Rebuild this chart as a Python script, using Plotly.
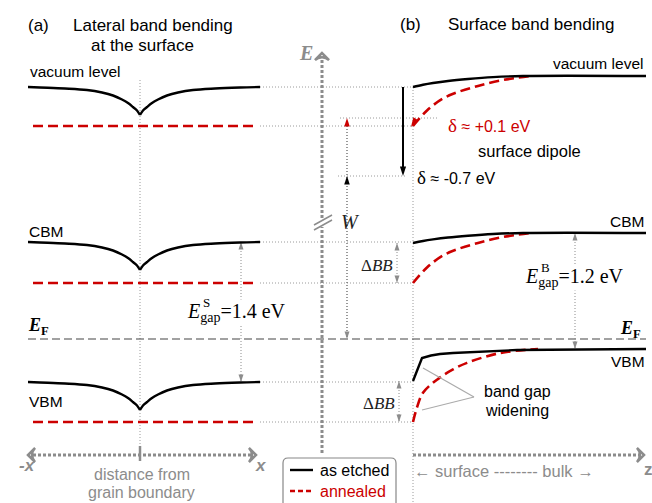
import math
import plotly.graph_objects as go

# ---------------- data (diagram coordinates: x = position, y = energy drawn downward) ----------------
levels = ["vacuum level", "CBM", "VBM"]
# panel (a): lateral band bending
a_etched_far = [87, 242, 382]
a_annealed = [126, 283, 422]
a_cusp_dist = [0, 3, 7, 12, 18, 27, 38, 53, 75, 100]
a_cusp_dip = [28, 23.5, 20, 16, 12.5, 8.5, 5.5, 3, 1.5, 0.5]
a_extent = [28, 260]
a_gb = 140
# panel (b): surface band bending
b_surface = 413
b_end = 646
b_etched_bulk = [76, 233, 349]
b_etched_surf = [87, 243, 381]
b_annealed_surf = [126, 283, 422]
b_black_dz = [0, 10, 20, 35, 55, 80, 110]
b_black_frac = [1, 0.8, 0.64, 0.45, 0.27, 0.1, 0]
b_red_dz = [0, 14, 30, 45, 65, 90, 118]
b_red_frac = [1, 0.69, 0.45, 0.32, 0.2, 0.08, 0]
b_vbm_black_dz = [0, 9, 18, 27, 40, 60, 80, 104]
b_vbm_black_off = [32, 9, 6.5, 5, 4, 3, 2, 1]
b_vbm_red_dz = [0, 4, 10, 24, 40, 54, 87, 125]
b_vbm_red_frac = [1, 0.8, 0.6, 0.42, 0.28, 0.19, 0.055, 0]
fermi = 339
gap_labels = ["1.4 eV", "1.2 eV"]
gap_sup = ["S", "B"]
delta_values = ["+0.1 eV", "-0.7 eV"]
delta_levels = [118, 176]

RED = "#cc0000"
GRAY = "#8c8c8c"
GUIDE = "#9a9a9a"
SANS = "Liberation Sans, Arial, sans-serif"
SERIF = "Liberation Serif, Times New Roman, serif"

fig = go.Figure()


def add_line(xs, ys, color, width, dash="solid", shape="linear"):
    fig.add_trace(go.Scatter(x=xs, y=ys, mode="lines",
                             line=dict(color=color, width=width, dash=dash, shape=shape),
                             hoverinfo="skip", showlegend=False))


def text(x, y, s, size=15, color="black", family=SANS, xanchor="center", yanchor="middle", bg=None):
    fig.add_annotation(x=x, y=y, text=s, showarrow=False, xanchor=xanchor, yanchor=yanchor,
                       font=dict(size=size, color=color, family=family),
                       bgcolor=bg, borderpad=0)


def head(x, y, angle, color, size=8, symbol="arrow", lw=0):
    # arrow symbol: tip sits exactly on the point; angle in degrees clockwise from "up"
    fig.add_trace(go.Scatter(x=[x], y=[y], mode="markers",
                             marker=dict(symbol=symbol, size=size, angle=angle, color=color,
                                         line=dict(color=color, width=lw)),
                             hoverinfo="skip", showlegend=False))


UP, DOWN, LEFT, RIGHT = 0, 180, 270, 90
GD = "1px,2px"
# ---------------- guide lines ----------------
add_line([a_gb, a_gb], [80, 447], GUIDE, 1, GD)
add_line([b_surface, b_surface], [b_etched_surf[0], 503], GUIDE, 1, GD)
for yv in a_etched_far + a_annealed:
    add_line([a_extent[1], b_surface], [yv, yv], GUIDE, 1, GD)
add_line([340, 438], [delta_levels[0]] * 2, GUIDE, 1, GD)
add_line([338, 405], [delta_levels[1]] * 2, GUIDE, 1, GD)

# Fermi level
add_line([28, b_end], [fermi, fermi], "#444444", 1.2, "8px,4px")

# gap arrows
add_line([241, 241], [a_etched_far[1], a_etched_far[2]], GRAY, 1, GD)
head(241, a_etched_far[1], UP, GRAY)
head(241, a_etched_far[2], DOWN, GRAY)
add_line([575, 575], [b_etched_bulk[1], b_etched_bulk[2]], GRAY, 1, GD)
head(575, b_etched_bulk[1], UP, GRAY)
head(575, b_etched_bulk[2], DOWN, GRAY)
# delta BB arrows
add_line([397, 397], [b_etched_surf[1], b_annealed_surf[1]], GRAY, 1, GD)
head(397, b_etched_surf[1], UP, GRAY)
head(397, b_annealed_surf[1], DOWN, GRAY)
add_line([399, 399], [b_etched_surf[2], b_annealed_surf[2]], GRAY, 1, GD)
head(399, b_etched_surf[2], UP, GRAY)
head(399, b_annealed_surf[2], DOWN, GRAY)

# work function arrow W
add_line([347, 347], [b_annealed_surf[0], fermi], "#555555", 1.2, GD)
head(347, delta_levels[0], UP, RED, size=9)
head(347, delta_levels[1], UP, "black", size=9)
head(347, fermi, DOWN, GRAY)

# E axis
add_line([322, 322], [453, 58], GRAY, 3, "3px,2px")
head(322, 53, UP, GRAY, size=10, symbol="arrow-wide-open", lw=2.5)
add_line([313, 331], [223, 223], "white", 8)
add_line([314, 332], [225, 215], GRAY, 1.5)
add_line([314, 332], [230, 220], GRAY, 1.5)

# x axis (panel a)
add_line([33, 251], [455, 455], GRAY, 3, "3px,2px")
head(28, 455, LEFT, GRAY, size=10, symbol="arrow-wide-open", lw=2.5)
head(256, 455, RIGHT, GRAY, size=10, symbol="arrow-wide-open", lw=2.5)
add_line([a_gb, a_gb], [446, 461], GRAY, 2.5)
# z axis (panel b)
add_line([b_surface, 639], [455, 455], GRAY, 3, "3px,2px")
head(644, 455, RIGHT, GRAY, size=10, symbol="arrow-wide-open", lw=2.5)

# ---------------- bands, panel (a) ----------------
RD = "10px,5px"
for i in range(3):
    lvl = a_etched_far[i]
    add_line([33, 258], [a_annealed[i]] * 2, RED, 2.6, RD)
    lx = [a_extent[0]] + [a_gb - d for d in reversed(a_cusp_dist)]
    ly = [lvl] + [lvl + v for v in reversed(a_cusp_dip)]
    rx = [a_gb + d for d in a_cusp_dist] + [a_extent[1]]
    ry = [lvl + v for v in a_cusp_dip] + [lvl]
    add_line(lx, ly, "black", 2.4, shape="spline")
    add_line(rx, ry, "black", 2.4, shape="spline")

# ---------------- bands, panel (b) ----------------
for i in range(3):
    bulk = b_etched_bulk[i]
    if i < 2:
        dz, fr = b_red_dz, b_red_frac
    else:
        dz, fr = b_vbm_red_dz, b_vbm_red_frac
    xs = [b_surface + d for d in dz]
    ys = [bulk + f * (b_annealed_surf[i] - bulk) for f in fr]
    add_line(xs, ys, RED, 2.6, RD, shape="spline")
for i in range(2):
    bulk = b_etched_bulk[i]
    xs = [b_surface + d for d in b_black_dz] + [b_end]
    ys = [bulk + f * (b_etched_surf[i] - bulk) for f in b_black_frac] + [bulk]
    add_line(xs, ys, "black", 2.4, shape="spline")
xs = [b_surface + d for d in b_vbm_black_dz] + [b_end]
ys = [b_etched_bulk[2] + o for o in b_vbm_black_off] + [b_etched_bulk[2]]
add_line(xs, ys, "black", 2.4)

# surface dipole arrows
add_line([403, 403], [b_etched_surf[0], delta_levels[1] - 6], "black", 2)
head(403, delta_levels[1], DOWN, "black", size=10)
red_dir = math.degrees(math.atan2(411 - 419, -(127 - 114)))
head(411, 127, red_dir, RED, size=10)

# band gap widening pointers
add_line([474, 423], [397, 368], "#aaaaaa", 1.2)
add_line([474, 422], [397, 410], "#aaaaaa", 1.2)

# ---------------- texts ----------------
text(38, 25, "(a)", 17)
text(153, 25, "Lateral band bending", 17)
text(142, 45, "at the surface", 17)
text(29, 71, "vacuum level", 15.5, xanchor="left")
text(410, 24, "(b)", 17)
text(531, 24, "Surface band bending", 17)
text(644, 63, "vacuum level", 15.5, xanchor="right")
text(28, 231, "CBM", 15.5, xanchor="left")
text(645, 221, "CBM", 15.5, xanchor="right")
text(28, 401, "VBM", 15.5, xanchor="left")
text(646, 361, "VBM", 15.5, xanchor="right")
text(27, 326, "<b><i>E</i><sub>F</sub></b>", 18, family=SERIF, xanchor="left")
text(619, 329, "<b><i>E</i><sub>F</sub></b>", 18, family=SERIF, xanchor="left")

# gap labels
text(186, 312, "<i>E</i><sub>gap</sub>=" + gap_labels[0], 20, family=SERIF, xanchor="left", bg="white")
text(206, 302, gap_sup[0], 13, family=SERIF)
text(524, 277, "<i>E</i><sub>gap</sub>=" + gap_labels[1], 20, family=SERIF, xanchor="left", bg="white")
text(545, 267, gap_sup[1], 13, family=SERIF)

# delta labels
DELTA = "<span style='font-family:Liberation Serif;font-size:19px'>δ</span>"
text(447, 125, DELTA + " ≈ " + delta_values[0], 16, RED, xanchor="left")
text(477, 151, "surface dipole", 16.5, xanchor="left")
text(416, 177, DELTA + " ≈ " + delta_values[1], 16, xanchor="left")

text(306, 53, "<i><b>E</b></i>", 20, GRAY, SERIF)
text(350, 222, "<i>W</i>", 20, "#222222", SERIF)
text(377, 265, "Δ<i>BB</i>", 17, "#222222", SERIF)
text(379, 403, "Δ<i>BB</i>", 17, "#222222", SERIF)

text(517, 391, "band gap", 16)
text(517, 410, "widening", 16)

text(27, 465, "<b><i>-x</i></b>", 17, GRAY)
text(261, 465, "<b><i>x</i></b>", 17, GRAY)
text(648, 469, "<b>z</b>", 17, GRAY)
text(142, 474, "distance from", 16, GRAY)
text(141, 492, "grain boundary", 16, GRAY)
text(413, 471, "<b>←</b> surface -------- bulk <b>→</b>", 16.5, GRAY, xanchor="left")

# legend box
x0, x1, y0, y1, r = 283, 396, 458, 510, 5
fig.add_shape(type="path",
              path=f"M{x0 + r},{y0} L{x1 - r},{y0} Q{x1},{y0} {x1},{y0 + r} L{x1},{y1} L{x0},{y1} L{x0},{y0 + r} Q{x0},{y0} {x0 + r},{y0} Z",
              line=dict(color="#888888", width=1.2), fillcolor="white", layer="below")
add_line([290, 313], [470, 470], "black", 2.4)
add_line([290, 313], [491, 491], RED, 2.4, "5px,3px")
text(319, 470, "as etched", 16, xanchor="left")
text(319, 491, "annealed", 16, RED, xanchor="left")

fig.update_layout(
    width=652, height=503, autosize=False,
    margin=dict(l=0, r=0, t=0, b=0),
    paper_bgcolor="white", plot_bgcolor="white",
    xaxis=dict(range=[0, 652], visible=False, fixedrange=True),
    yaxis=dict(range=[503, 0], visible=False, fixedrange=True),
    showlegend=False,
)

fig.write_html("out.html", config={"displayModeBar": False},
               post_script="document.body.style.margin='0px';document.documentElement.style.margin='0px';document.body.style.overflow='hidden';")
